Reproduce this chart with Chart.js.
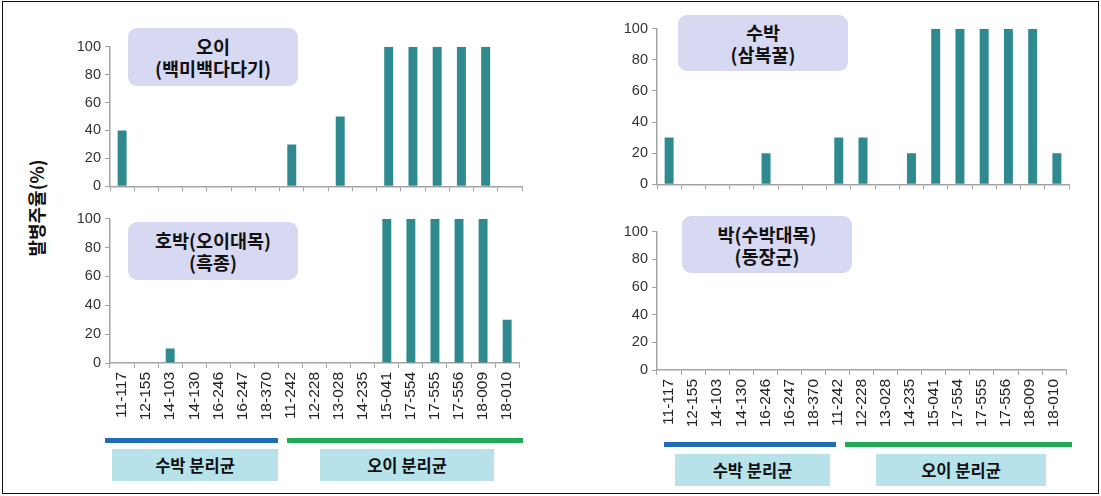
<!DOCTYPE html>
<html>
<head>
<meta charset="utf-8">
<script src="https://cdn.jsdelivr.net/npm/chart.js@4"></script>
<style>
  html, body { margin:0; padding:0; background:#fff; }
  body { width:1101px; height:496px; position:relative; overflow:hidden; font-family:"Liberation Sans", Arial, sans-serif; }
  .frame { position:absolute; left:2px; top:1px; width:1095px; height:491px; border:1.5px solid #111; }
  canvas { position:absolute; }
  .tbox { position:absolute; background:#d7d9f2; border-radius:9px; font-family:"Noto Sans CJK KR", sans-serif; font-weight:bold; font-size:18.5px; line-height:22px; color:#111; text-align:center; display:flex; flex-direction:column; justify-content:center; }
  .gline { position:absolute; height:5px; }
  .gbox { position:absolute; background:#b8e2e9; font-family:"Noto Sans CJK KR", sans-serif; font-weight:bold; font-size:16.5px; color:#111; text-align:center; display:flex; align-items:center; justify-content:center; }
  .ytitle { position:absolute; left:36px; top:208px; transform:translate(-50%,-50%) rotate(-90deg); font-family:"Noto Sans CJK KR", sans-serif; font-weight:bold; font-size:18px; white-space:nowrap; color:#111; }
</style>
</head>
<body>
<div class="frame"></div>
<div class="ytitle">발병주율(%)</div>
<canvas id="c1"></canvas>
<canvas id="c2"></canvas>
<canvas id="c3"></canvas>
<canvas id="c4"></canvas>

<div class="tbox" style="left:128px;top:28px;width:170px;height:58px;"><div>오이</div><div>(백미백다다기)</div></div>
<div class="tbox" style="left:128px;top:222px;width:170px;height:58px;"><div>호박(오이대목)</div><div>(흑종)</div></div>
<div class="tbox" style="left:678px;top:15px;width:170px;height:56px;"><div>수박</div><div>(삼복꿀)</div></div>
<div class="tbox" style="left:682px;top:216px;width:170px;height:57px;"><div>박(수박대목)</div><div>(동장군)</div></div>

<div class="gline" style="left:105px;top:438px;width:173px;background:#1f6cb8;"></div>
<div class="gline" style="left:287px;top:438px;width:236px;background:#1faa55;"></div>
<div class="gbox" style="left:112px;top:449px;width:166px;height:32px;">수박 분리균</div>
<div class="gbox" style="left:320px;top:449px;width:174px;height:32px;">오이 분리균</div>

<div class="gline" style="left:664px;top:442px;width:172px;background:#1f6cb8;"></div>
<div class="gline" style="left:845px;top:442px;width:227px;background:#1faa55;"></div>
<div class="gbox" style="left:675px;top:454px;width:155px;height:32px;">수박 분리균</div>
<div class="gbox" style="left:876px;top:454px;width:170px;height:32px;">오이 분리균</div>

<script>
// ---- data ----
const categories = ["11-117","12-155","14-103","14-130","16-246","16-247","18-370","11-242","12-228","13-028","14-235","15-041","17-554","17-555","17-556","18-009","18-010"];
const cucumber   = [40,0,0,0,0,0,0,30,0,50,0,100,100,100,100,100,0];   // 오이(백미백다다기)
const pumpkin    = [0,0,10,0,0,0,0,0,0,0,0,100,100,100,100,100,30];    // 호박(오이대목)(흑종)
const watermelon = [30,0,0,0,20,0,0,30,30,0,20,100,100,100,100,100,20]; // 수박(삼복꿀)
const gourd      = [0,0,0,0,0,0,0,0,0,0,0,0,0,0,0,0,0];                 // 박(수박대목)(동장군)
const yTicks     = [0,20,40,60,80,100];

const BAR = '#2f8a8f', AXIS = '#a3a3a3';

function makeChart(id, values, rect, showLabels) {
  const YW = 44, PT = 8, PR = 8, XH = showLabels ? 66 : 10;
  const cv = document.getElementById(id);
  const w = rect.R - rect.L + YW + PR, h = rect.B - rect.T + PT + XH;
  cv.width = w; cv.height = h;
  cv.style.left = (rect.L - YW) + 'px'; cv.style.top = (rect.T - PT) + 'px';
  cv.style.width = w + 'px'; cv.style.height = h + 'px';
  new Chart(cv, {
    type: 'bar',
    data: { labels: categories, datasets: [{ data: values, backgroundColor: BAR, barPercentage: 0.37, categoryPercentage: 1.0 }] },
    options: {
      responsive: false, animation: false, devicePixelRatio: 1,
      layout: { padding: { top: PT, right: PR, left: 0, bottom: 0 } },
      plugins: { legend: { display: false }, tooltip: { enabled: false } },
      scales: {
        x: {
          afterFit: s => { s.height = XH; },
          grid: { display: true, drawOnChartArea: false, drawTicks: true, tickLength: 5, color: AXIS, offset: true },
          border: { display: true, color: AXIS, width: 1.5 },
          ticks: { display: showLabels, autoSkip: false, minRotation: 90, maxRotation: 90, padding: 4,
                   font: { family: 'Liberation Sans', size: 15.5 }, color: '#222' }
        },
        y: {
          min: 0, max: 100,
          afterFit: s => { s.width = YW; },
          afterBuildTicks: s => { s.ticks = yTicks.map(v => ({ value: v })); },
          grid: { display: true, drawOnChartArea: false, drawTicks: true, tickLength: 5, color: AXIS },
          border: { display: true, color: AXIS, width: 1.5 },
          ticks: { padding: 4, font: { family: 'Liberation Sans', size: 14.5 }, color: '#333' }
        }
      }
    }
  });
}

makeChart('c1', cucumber,   { L:110, R:522, T:42,  B:189 }, false);
makeChart('c2', pumpkin,    { L:110, R:522, T:214, B:363 }, true);
makeChart('c3', watermelon, { L:657, R:1069, T:24, B:187 }, false);
makeChart('c4', gourd,      { L:657, R:1069, T:227, B:370 }, true);
</script>
</body>
</html>
